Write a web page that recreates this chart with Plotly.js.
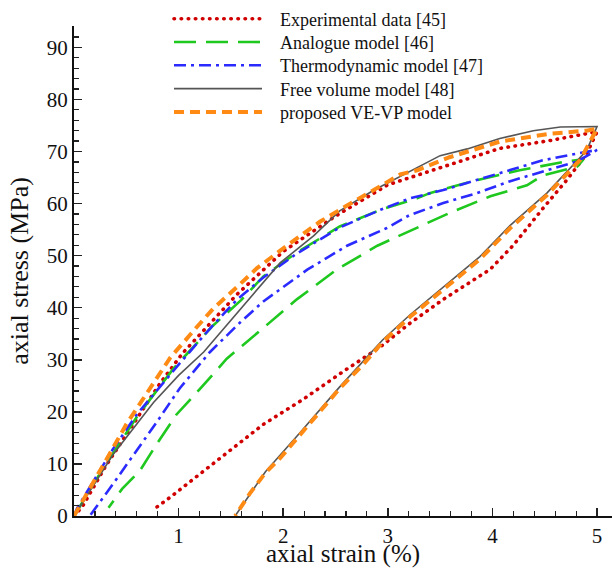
<!DOCTYPE html>
<html>
<head>
<meta charset="utf-8">
<script src="https://cdn.plot.ly/plotly-3.0.1.min.js"></script>
<style>
  html, body { margin: 0; padding: 0; background: #fff; }
  #chart { width: 612px; height: 568px; }
</style>
</head>
<body>
<div id="chart"></div>
<script>
// Axial stress (MPa) vs axial strain (%): loading branch then unloading branch for each series.

// Experimental data [45]
const expLoadStrain   = [0, 0.08, 0.3, 0.6, 0.82, 1.04, 1.33, 1.56, 2.0, 2.5, 3.0, 3.5, 4.07, 4.55, 4.9, 5.0];
const expLoadStress   = [0, 1.8, 9.5, 18.8, 25.4, 31.3, 37.6, 42.6, 50.8, 57.6, 63.6, 66.9, 70.6, 72.1, 73.4, 73.8];
const expUnloadStrain = [5.0, 4.9, 4.71, 4.48, 4.2, 3.98, 3.79, 3.53, 3.21, 2.93, 2.57, 2.19, 1.81, 1.37, 1.14, 0.92, 0.77];
const expUnloadStress = [73.8, 69.5, 64.5, 59.0, 52.0, 47.4, 44.9, 41.6, 37.0, 32.5, 27.7, 22.4, 17.6, 10.6, 7.1, 3.6, 1.4];

// Analogue model [46]
const anaLoadStrain   = [0, 0.28, 0.6, 0.95, 1.33, 1.6, 1.81, 2.13, 2.54, 2.93, 3.28, 3.4, 3.81, 4.26, 4.71, 4.87];
const anaLoadStress   = [0, 9.2, 19.0, 28.3, 36.6, 41.5, 46.0, 50.6, 55.6, 58.8, 61.0, 62.0, 64.3, 66.4, 68.1, 68.5];
const anaUnloadStrain = [4.87, 4.81, 4.48, 4.33, 3.98, 3.59, 3.24, 2.9, 2.51, 2.13, 1.85, 1.59, 1.46, 1.2, 0.98, 0.79, 0.63, 0.46, 0.33];
const anaUnloadStress = [68.5, 67.1, 65.4, 63.5, 61.4, 58.2, 55.0, 51.9, 47.3, 41.6, 36.8, 32.3, 30.2, 24.3, 19.5, 13.8, 8.7, 5.2, 1.6];

// Thermodynamic model [47]
const thmLoadStrain   = [0, 0.03, 0.37, 0.6, 1.01, 1.3, 1.56, 1.81, 2.13, 2.54, 2.93, 3.21, 3.53, 3.85, 4.17, 4.48, 4.81, 5.0];
const thmLoadStress   = [0, 1.5, 12.8, 19.5, 29.3, 36.0, 41.6, 45.8, 50.4, 55.4, 58.8, 61.0, 62.6, 64.5, 66.4, 68.3, 69.6, 70.3];
const thmUnloadStrain = [5.0, 4.81, 4.48, 4.17, 3.85, 3.53, 3.21, 2.99, 2.61, 2.23, 1.81, 1.59, 1.3, 1.01, 0.79, 0.6, 0.35, 0.15];
const thmUnloadStress = [70.3, 68.1, 66.2, 64.3, 62.0, 60.1, 57.8, 55.3, 51.9, 47.3, 41.2, 37.2, 31.5, 24.5, 18.0, 12.5, 5.5, 0];

// Free volume model [48]
const fvLoadStrain   = [0, 0.37, 0.76, 1.0, 1.24, 1.59, 1.97, 2.29, 2.54, 2.86, 3.12, 3.5, 3.76, 4.07, 4.39, 4.65, 5.0];
const fvLoadStress   = [0, 11.7, 21.8, 27.0, 31.5, 39.8, 48.6, 53.8, 58.6, 62.5, 65.2, 69.2, 70.5, 72.5, 74.0, 74.7, 74.8];
const fvUnloadStrain = [5.0, 4.9, 4.52, 4.17, 3.88, 3.53, 3.21, 2.95, 2.54, 2.16, 1.83, 1.54];
const fvUnloadStress = [74.8, 70.2, 62.0, 55.8, 49.8, 44.0, 38.6, 33.8, 24.8, 16.0, 8.5, 0];

// proposed VE-VP model
const veLoadStrain   = [0, 0.15, 0.34, 0.5, 0.73, 0.92, 1.17, 1.33, 1.57, 1.75, 2.04, 2.35, 2.54, 2.86, 3.12, 3.28, 3.59, 4.07, 4.55, 4.9, 5.0];
const veLoadStress   = [0, 5.4, 11.9, 17.6, 24.5, 30.4, 36.2, 39.8, 44.2, 47.6, 52.0, 56.5, 58.8, 62.6, 65.6, 66.4, 68.9, 71.9, 73.4, 74.0, 74.4];
const veUnloadStrain = [5.0, 4.84, 4.52, 4.17, 3.88, 3.53, 3.21, 2.95, 2.76, 2.54, 2.35, 2.16, 1.97, 1.83, 1.68, 1.54];
const veUnloadStress = [74.4, 68.4, 61.6, 55.3, 49.3, 43.5, 38.2, 33.4, 29.0, 24.5, 20.1, 15.7, 11.1, 8.3, 4.3, 0];

const seriesNames = ['Experimental data [45]', 'Analogue model [46]', 'Thermodynamic model [47]',
                     'Free volume model [48]', 'proposed VE-VP model'];

const serif = 'Liberation Serif, Times New Roman, serif';

function loop(name, ls, lsy, us, usy, line) {
  return {
    type: 'scatter', mode: 'lines', name: name,
    x: ls.concat(us), y: lsy.concat(usy),
    line: line, hoverinfo: 'skip'
  };
}

const traces = [
  loop(seriesNames[0], expLoadStrain, expLoadStress, expUnloadStrain, expUnloadStress,
       {color: '#d10000', width: 3.6, dash: '0.5px,6.6px'}),
  loop(seriesNames[1], anaLoadStrain, anaLoadStress, anaUnloadStrain, anaUnloadStress,
       {color: '#1ec81e', width: 2.6, dash: '22px,10px'}),
  loop(seriesNames[2], thmLoadStrain, thmLoadStress, thmUnloadStrain, thmUnloadStress,
       {color: '#2b2bff', width: 2.6, dash: '12px,5px,3px,5px'}),
  loop(seriesNames[3], fvLoadStrain, fvLoadStress, fvUnloadStrain, fvUnloadStress,
       {color: '#555555', width: 1.6}),
  loop(seriesNames[4], veLoadStrain, veLoadStress, veUnloadStrain, veUnloadStress,
       {color: '#ff8a14', width: 4, dash: '10px,6px'})
];

const layout = {
  width: 612, height: 568,
  margin: {l: 74, r: 0, t: 22, b: 52},
  paper_bgcolor: '#fff', plot_bgcolor: '#fff',
  font: {family: serif, size: 21, color: '#111'},
  showlegend: true,
  legend: {
    x: 0.1766, y: 1.052, xanchor: 'left', yanchor: 'top',
    bgcolor: 'rgba(0,0,0,0)', borderwidth: 0,
    font: {family: serif, size: 18, color: '#111'},
    itemwidth: 88, tracegroupgap: 0
  },
  xaxis: {
    range: [0, 5.143], showgrid: false, zeroline: false,
    showline: true, linecolor: '#111', linewidth: 2,
    ticks: 'inside', ticklen: 8, tickwidth: 1.5, tickcolor: '#222',
    tickvals: [1, 2, 3, 4, 5], ticktext: ['1', '2', '3', '4', '5'],
    tickfont: {family: serif, size: 21, color: '#111'},
    minor: {ticks: 'inside', dtick: 0.2, tick0: 0, ticklen: 5, tickwidth: 1.2, tickcolor: '#222', showgrid: false},
    title: {text: 'axial strain (%)', font: {family: serif, size: 25, color: '#111'}, standoff: 2}
  },
  yaxis: {
    range: [0, 94.1], showgrid: false, zeroline: false,
    showline: true, linecolor: '#111', linewidth: 2,
    ticks: 'inside', ticklen: 8, tickwidth: 1.5, tickcolor: '#222',
    tickvals: [0, 10, 20, 30, 40, 50, 60, 70, 80, 90],
    tickfont: {family: serif, size: 21, color: '#111'},
    minor: {ticks: 'inside', dtick: 2, tick0: 0, ticklen: 5, tickwidth: 1.2, tickcolor: '#222', showgrid: false},
    title: {text: 'axial stress (MPa)', font: {family: serif, size: 26, color: '#111'}, standoff: 11}
  }
};

Plotly.newPlot('chart', traces, layout, {staticPlot: true, displayModeBar: false}).then(function (gd) {
  // round caps turn the short dashes of the experimental series into dots
  gd.querySelectorAll('path.js-line').forEach(function (p) {
    if ((p.style.stroke || '').replace(/\s/g, '') === 'rgb(209,0,0)') {
      p.style.strokeLinecap = 'round';
    }
  });
  // tighter legend rows and a wider gap between sample line and label
  gd.querySelectorAll('.legend [clip-path]').forEach(function (el) {
    el.removeAttribute('clip-path');
  });
  const rows = gd.querySelectorAll('.legend .traces');
  let y0 = null;
  rows.forEach(function (g, i) {
    const m = /translate\(\s*([-\d.]+)[ ,]+([-\d.]+)\s*\)/.exec(g.getAttribute('transform') || '');
    if (!m) return;
    const x = parseFloat(m[1]);
    if (y0 === null) y0 = parseFloat(m[2]);
    g.setAttribute('transform', 'translate(' + x + ',' + (y0 + i * 23.3) + ')');
    const t = g.querySelector('text.legendtext');
    if (t) t.setAttribute('x', parseFloat(t.getAttribute('x') || 0) + 13);
  });
});
</script>
</body>
</html>
